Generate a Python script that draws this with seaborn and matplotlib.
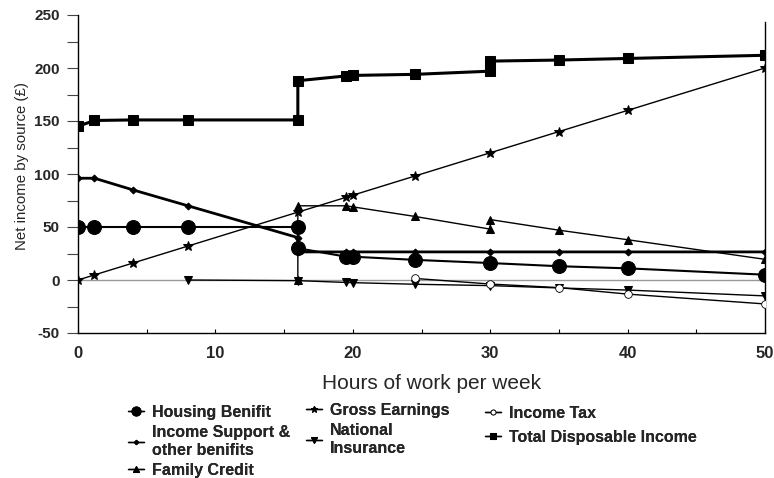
import matplotlib
matplotlib.use("Agg")
import matplotlib.pyplot as plt
import seaborn as sns
import pandas as pd
from matplotlib.ticker import MultipleLocator

# ---- data ----
housing_x = [0, 1.2, 4, 8, 16, 16, 19.5, 20, 24.5, 30, 35, 40, 50]
housing_y = [50, 50, 50, 50, 50, 30, 22, 22, 19, 16, 13, 11, 5]

support_x = [0, 1.2, 4, 8, 16, 16, 19.5, 20, 24.5, 30, 35, 40, 50]
support_y = [96, 96, 85, 70, 40, 26.5, 26.5, 26.5, 26.5, 26.5, 26.5, 26.5, 26.5]

family_x = [16, 16, 19.5, 20, 24.5, 30, 30, 35, 40, 50]
family_y = [0, 70, 70, 69, 60, 48, 57, 47, 38, 19.5]

gross_x = [0, 1.2, 4, 8, 16, 19.5, 20, 24.5, 30, 35, 40, 50]
gross_y = [0, 4.8, 16, 32, 64, 78, 80, 98, 120, 140, 160, 200]

ni_x = [8, 16, 19.5, 20, 24.5, 30, 35, 40, 50]
ni_y = [0, -0.6, -2.3, -2.5, -4, -5.3, -7.5, -9.5, -15]

tax_x = [24.5, 30, 35, 40, 50]
tax_y = [1.5, -3.8, -7.2, -13.3, -22.6]

total_x = [0, 1.2, 4, 8, 16, 16, 19.5, 20, 24.5, 30, 30, 35, 40, 50]
total_y = [145, 150.5, 151, 151, 151, 188, 192.5, 193, 194, 197, 206.5, 207.5, 209, 212]

labels = ["Housing Benifit", "Income Support &\nother benifits", "Family Credit",
          "Gross Earnings", "National\nInsurance", "Income Tax",
          "Total Disposable Income"]

series = [
    (housing_x, housing_y, dict(marker="o", markersize=10, lw=1.5, mfc="black")),
    (support_x, support_y, dict(marker="D", markersize=3.5, lw=2.0, mfc="black")),
    (family_x, family_y, dict(marker="^", markersize=6, lw=1.0, mfc="black")),
    (gross_x, gross_y, dict(marker="*", markersize=7.5, lw=1.0, mfc="black")),
    (ni_x, ni_y, dict(marker="v", markersize=6, lw=1.0, mfc="black")),
    (tax_x, tax_y, dict(marker="o", markersize=5.5, lw=1.0, mfc="white", mew=0.6)),
    (total_x, total_y, dict(marker="s", markersize=7.5, lw=2.2, mfc="black")),
]

sns.set_theme(style="white")
plt.rcParams["font.family"] = ["Liberation Sans", "DejaVu Sans"]
plt.rcParams["axes.unicode_minus"] = False

fig = plt.figure(figsize=(7.74, 4.78), dpi=100)
ax = fig.add_axes([78 / 774, 1 - 333 / 478, (765 - 78) / 774, (333 - 15) / 478])

ax.axhline(0, color="#999999", lw=1.0, zorder=1)

handles = []
for (xs, ys, st), lab in zip(series, labels):
    df = pd.DataFrame({"x": xs, "y": ys})
    sns.lineplot(data=df, x="x", y="y", sort=False, estimator=None, ax=ax,
                 color="black", mec="black", label=lab, legend=False,
                 zorder=3, **st)
    handles.append(ax.lines[-1])

ax.set_xlim(0, 50)
ax.set_ylim(-50, 250)
ax.xaxis.set_major_locator(MultipleLocator(10))
ax.xaxis.set_minor_locator(MultipleLocator(5))
ax.yaxis.set_major_locator(MultipleLocator(50))
ax.yaxis.set_minor_locator(MultipleLocator(25))

for side in ["left", "bottom", "right"]:
    ax.spines[side].set_color("black")
    ax.spines[side].set_linewidth(1.0)
ax.spines["top"].set_visible(False)
ax.spines["right"].set_bounds(-50, 243)

ax.tick_params(axis="y", which="both", direction="out", length=8, width=0.8,
               color="#444444", left=True, labelsize=11, pad=5)
ax.tick_params(axis="x", which="both", direction="in", length=3, width=0.8,
               color="black", bottom=True, labelsize=12, pad=9)
for t in ax.get_xticklabels() + ax.get_yticklabels():
    t.set_fontweight("bold")

ax.set_xlabel("Hours of work per week", fontsize=15)
ax.xaxis.set_label_coords(0.515, -0.13)
ax.set_ylabel("Net income by source (£)", fontsize=10.8, labelpad=4)
ax.yaxis.label.set_y(0.525)

# Legend (manually positioned columns)
col_specs = [
    ([0, 1, 2], 128 / 774, 1 - 405 / 478, 0.33),
    ([3, 4], 306 / 774, 1 - 403 / 478, 0.33),
    ([5, 6], 485 / 774, 1 - 406 / 478, 0.55),
]
for idx, x0, y0, ls in col_specs:
    leg = fig.legend([handles[i] for i in idx], [labels[i] for i in idx],
                     loc="upper left", bbox_to_anchor=(x0, y0), frameon=False,
                     handlelength=1.0, handletextpad=0.5, labelspacing=ls,
                     borderpad=0, borderaxespad=0, markerscale=0.65,
                     prop={"weight": "bold", "size": 11.5})
    for ln in leg.get_lines():
        ln.set_linewidth(1.0)
    fig.add_artist(leg)

fig.savefig("out.png", dpi=100)
